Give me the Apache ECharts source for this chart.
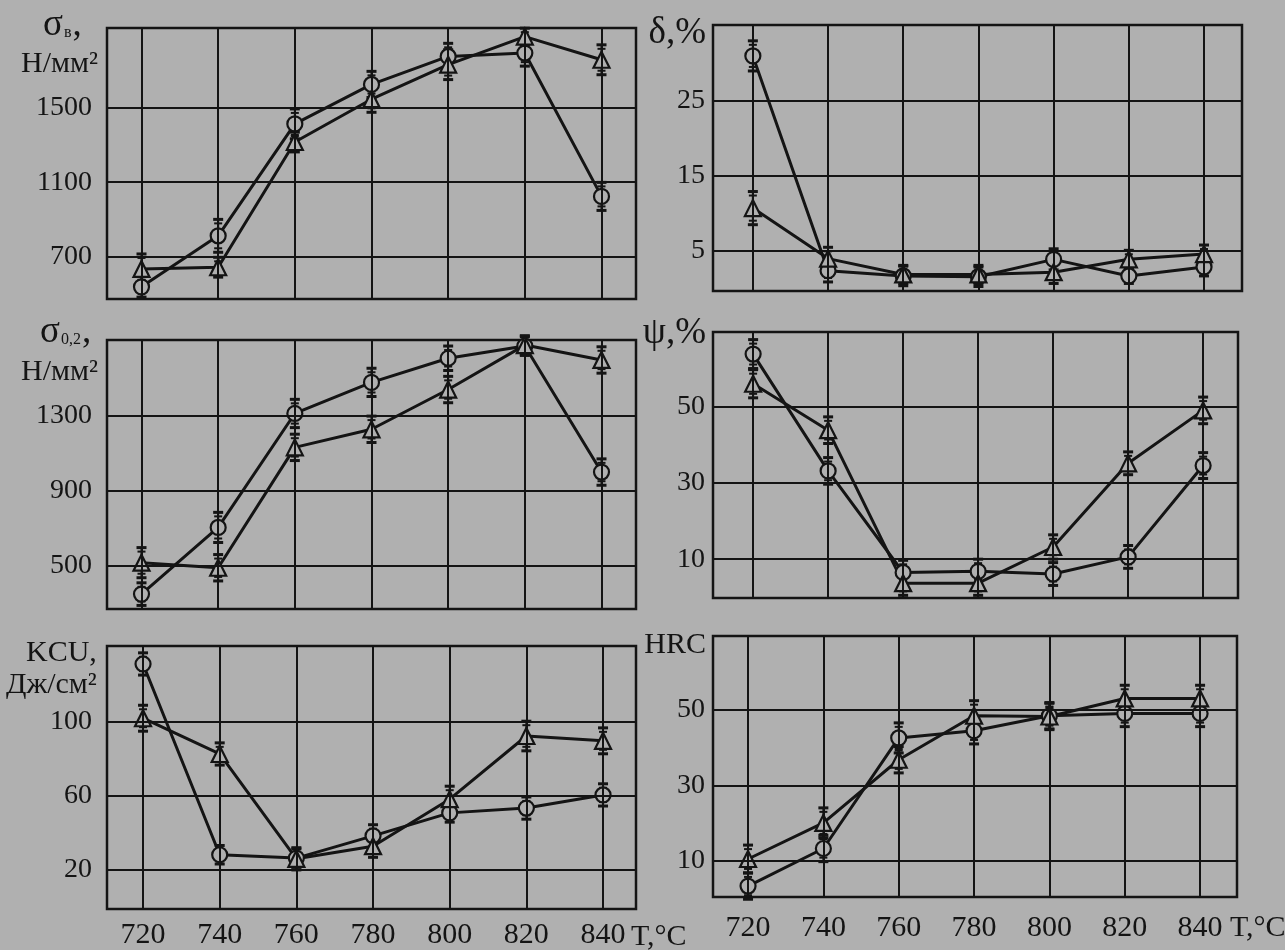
<!DOCTYPE html>
<html><head><meta charset="utf-8">
<script src="https://cdn.jsdelivr.net/npm/echarts@6/dist/echarts.min.js"></script>
<style>html,body{margin:0;padding:0;background:#b0b0b0}#c{width:1285px;height:950px}</style>
</head><body><div id="c"></div>
<script>
// ---- data ----
const temps = [720, 740, 760, 780, 800, 820, 840];

const sigmaBCircle = [540, 813, 1412, 1623, 1773, 1791, 1024];
const sigmaBTri    = [636, 645, 1315, 1544, 1729, 1879, 1755];
const sigmaBCircleErr = [55, 88, 80, 70, 70, 70, 75];
const sigmaBTriErr    = [80, 53, 53, 70, 80, 45, 80];
const sigmaBTicks = [700, 1100, 1500];

const deltaCircle = [30.9, 2.4, 1.7, 1.6, 3.9, 1.7, 2.9];
const deltaTri    = [10.7, 4.0, 1.9, 1.9, 2.2, 3.9, 4.6];
const deltaCircleErr = [2.0, 1.5, 1.3, 1.3, 1.4, 1.0, 1.2];
const deltaTriErr    = [2.2, 1.5, 1.2, 1.2, 1.5, 1.2, 1.2];
const deltaTicks = [5, 15, 25];

const sigma02Circle = [351, 705, 1310, 1475, 1603, 1668, 999];
const sigma02Tri    = [518, 491, 1130, 1226, 1437, 1673, 1594];
const sigma02CircleErr = [60, 80, 75, 75, 65, 50, 70];
const sigma02TriErr    = [80, 70, 70, 70, 70, 50, 70];
const sigma02Ticks = [500, 900, 1300];

const psiCircle = [63.9, 33.2, 6.5, 6.8, 6.1, 10.6, 34.6];
const psiTri    = [56.1, 43.9, 3.7, 3.7, 13.2, 35.2, 49.1];
const psiCircleErr = [3.8, 3.5, 3.2, 3.2, 3.0, 3.0, 3.4];
const psiTriErr    = [3.7, 3.5, 3.2, 3.2, 3.2, 3.0, 3.5];
const psiTicks = [10, 30, 50];

const kcuCircle = [131.3, 28.3, 26.5, 38.5, 50.9, 53.5, 60.6];
const kcuTri    = [102, 82.7, 26.1, 32.9, 58.3, 92.4, 89.8];
const kcuCircleErr = [6, 5, 5, 6, 5, 6, 6];
const kcuTriErr    = [7, 6, 6, 6, 7, 8, 7];
const kcuTicks = [20, 60, 100];

const hrcCircle = [3.2, 13.2, 42.6, 44.5, 48.5, 49.1, 49.1];
const hrcTri    = [10.4, 20.0, 36.8, 48.5, 48.3, 53.1, 53.1];
const hrcCircleErr = [3.5, 3.5, 4, 3.5, 3.5, 3.5, 3.5];
const hrcTriErr    = [3.7, 4, 3.5, 4, 3.5, 3.5, 3.5];
const hrcTicks = [10, 30, 50];

// ---- layout ----
const INK = '#141414', BG = '#b0b0b0', FONT = 'Liberation Serif';
const panels = [
  {c: sigmaBCircle, t: sigmaBTri, ce: sigmaBCircleErr, te: sigmaBTriErr, ticks: sigmaBTicks,
   ymin: 475, ymax: 1925, xmin: 711, xmax: 849, g: {left: 107, top: 28, width: 529, height: 271}, col: 0, bottom: false},
  {c: deltaCircle, t: deltaTri, ce: deltaCircleErr, te: deltaTriErr, ticks: deltaTicks,
   ymin: -0.3, ymax: 35, xmin: 709.4, xmax: 850.1, g: {left: 713, top: 25, width: 529, height: 266}, col: 1, bottom: false},
  {c: sigma02Circle, t: sigma02Tri, ce: sigma02CircleErr, te: sigma02TriErr, ticks: sigma02Ticks,
   ymin: 272, ymax: 1700, xmin: 711, xmax: 849, g: {left: 107, top: 340, width: 529, height: 269}, col: 0, bottom: false},
  {c: psiCircle, t: psiTri, ce: psiCircleErr, te: psiTriErr, ticks: psiTicks,
   ymin: -0.2, ymax: 69.7, xmin: 709.3, xmax: 849.3, g: {left: 713, top: 332, width: 525, height: 266}, col: 1, bottom: false},
  {c: kcuCircle, t: kcuTri, ce: kcuCircleErr, te: kcuTriErr, ticks: kcuTicks,
   ymin: -1, ymax: 141, xmin: 710.6, xmax: 848.6, g: {left: 107, top: 646, width: 529, height: 263}, col: 0, bottom: true, xm: 11},
  {c: hrcCircle, t: hrcTri, ce: hrcCircleErr, te: hrcTriErr, ticks: hrcTicks,
   ymin: 0.3, ymax: 69.7, xmin: 710.7, xmax: 849.8, g: {left: 713, top: 636, width: 524, height: 261}, col: 1, bottom: true, xm: 16}
];

function renderErr(params, api) {
  const x = api.value(0), lo = api.value(1), hi = api.value(2);
  const p1 = api.coord([x, lo]), p2 = api.coord([x, hi]);
  const w = 5;
  const st = {stroke: INK, lineWidth: 2};
  const cap = {stroke: INK, lineWidth: 3};
  return {type: 'group', children: [
    {type: 'line', shape: {x1: p1[0], y1: p1[1], x2: p2[0], y2: p2[1]}, style: st},
    {type: 'line', shape: {x1: p1[0] - w, y1: p1[1], x2: p1[0] + w, y2: p1[1]}, style: cap},
    {type: 'line', shape: {x1: p1[0] - w + 1, y1: p1[1] - 4, x2: p1[0] + w - 1, y2: p1[1] - 4}, style: st},
    {type: 'line', shape: {x1: p2[0] - w, y1: p2[1], x2: p2[0] + w, y2: p2[1]}, style: cap},
    {type: 'line', shape: {x1: p2[0] - w + 1, y1: p2[1] + 4, x2: p2[0] + w - 1, y2: p2[1] + 4}, style: st}
  ]};
}

const plain = v => String(v);
const grid = [], xAxis = [], yAxis = [], series = [];
panels.forEach((p, i) => {
  grid.push(Object.assign({show: true, borderColor: INK, borderWidth: 2.5, backgroundColor: 'transparent'}, p.g));
  xAxis.push({type: 'value', gridIndex: i, min: p.xmin, max: p.xmax,
    axisLine: {show: false}, axisTick: {show: false}, splitLine: {show: false},
    axisLabel: {show: p.bottom, customValues: temps, formatter: plain, fontSize: 30, fontFamily: FONT, color: INK, margin: p.xm || 8}});
  yAxis.push({type: 'value', gridIndex: i, min: p.ymin, max: p.ymax,
    axisLine: {show: false}, axisTick: {show: false}, splitLine: {show: false},
    axisLabel: {customValues: p.ticks, formatter: plain, fontSize: 28, fontFamily: FONT, color: INK, margin: p.col === 0 ? 15 : 8}});
  series.push({type: 'line', xAxisIndex: i, yAxisIndex: i, data: [], z: 1, silent: true,
    markLine: {silent: true, symbol: ['none', 'none'], animation: false, label: {show: false},
      lineStyle: {color: INK, width: 2, type: 'solid'},
      data: p.ticks.map(v => ({yAxis: v})).concat(temps.map(t => ({xAxis: t})))}});
  [[p.c, p.ce], [p.t, p.te]].forEach(([vals, err]) => {
    series.push({type: 'custom', xAxisIndex: i, yAxisIndex: i, z: 2, renderItem: renderErr,
      encode: {x: 0, y: [1, 2]},
      data: temps.map((t, j) => [t, vals[j] - err[j], vals[j] + err[j]])});
  });
  series.push({type: 'line', xAxisIndex: i, yAxisIndex: i, z: 3, symbol: 'circle', symbolSize: 15,
    data: temps.map((t, j) => [t, p.c[j]]),
    lineStyle: {color: INK, width: 3}, itemStyle: {color: BG, borderColor: INK, borderWidth: 2.2}});
  series.push({type: 'line', xAxisIndex: i, yAxisIndex: i, z: 3, symbol: 'triangle', symbolSize: 16,
    data: temps.map((t, j) => [t, p.t[j]]),
    lineStyle: {color: INK, width: 3}, itemStyle: {color: BG, borderColor: INK, borderWidth: 2.2}});
});

function txt(x, y, text, rich, align) {
  return {type: 'text', x: x, y: y, style: {text: text, rich: rich, align: align || 'left', verticalAlign: 'middle',
    fontFamily: FONT, fontSize: 29, fill: INK}};
}
const big = {fontSize: 37, fontFamily: FONT, fill: INK};
const sub = {fontSize: 16, fontFamily: FONT, fill: INK, padding: [16, 1, 0, 1]};
const mid = {fontSize: 30, fontFamily: FONT, fill: INK};

const graphic = [
  txt(43, 25, '{a|σ}{b|в}{a|,}', {a: big, b: sub}),
  txt(21, 64, '{m|Н/мм²}', {m: mid}),
  txt(40, 332, '{a|σ}{b|0,2}{a|,}', {a: big, b: sub}),
  txt(21, 372, '{m|Н/мм²}', {m: mid}),
  txt(26, 653, '{m|KCU,}', {m: mid}),
  txt(6, 685, '{m|Дж/см²}', {m: mid}),
  txt(706, 33, '{a|δ,%}', {a: big}, 'right'),
  txt(706, 333, '{a|ψ,%}', {a: big}, 'right'),
  txt(706, 645, '{m|HRC}', {m: mid}, 'right'),
  txt(631, 937, '{m|T,°C}', {m: {fontSize: 30, fontFamily: FONT, fill: INK}}),
  txt(1230, 928, '{m|T,°C}', {m: {fontSize: 30, fontFamily: FONT, fill: INK}})
];

const chart = echarts.init(document.getElementById('c'), null, {renderer: 'canvas'});
chart.setOption({backgroundColor: BG, animation: false, grid, xAxis, yAxis, series, graphic});
</script></body></html>
